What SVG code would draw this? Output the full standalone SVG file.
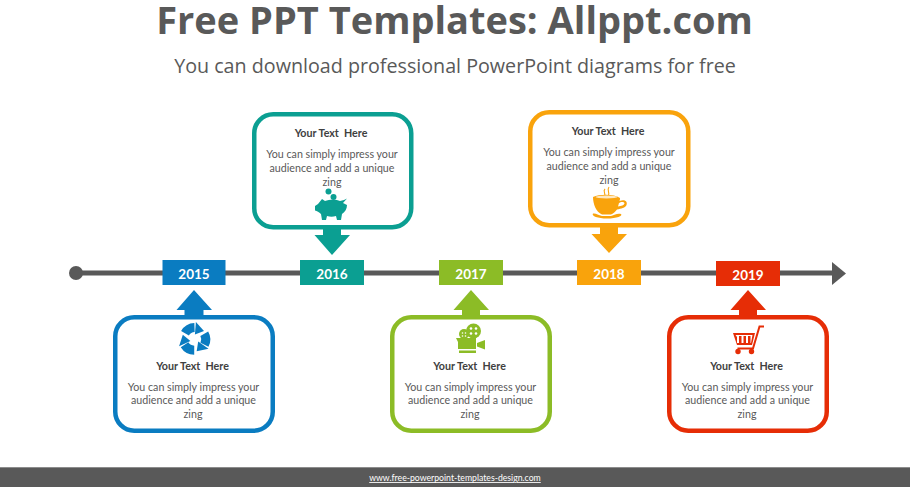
<svg xmlns="http://www.w3.org/2000/svg" width="910" height="487" viewBox="0 0 910 487">
<style>
text{font-family:"Lato","Carlito","Liberation Sans",sans-serif;text-anchor:middle}
.t{font-family:"Open Sans","Liberation Sans",sans-serif;fill:#595959}
.box{fill:#fff;stroke-width:4.5}
.h{font-size:10.700px;font-weight:700;fill:#404040}
.b{font-size:10.700px;fill:#595959}
.y{font-size:13.500px;font-weight:700;fill:#fff}
.blue{fill:#0a7cc1}.teal{fill:#0b9f92}.green{fill:#8cbc26}.orange{fill:#f9a30c}.red{fill:#e62d06}
.wh{fill:#fff}
</style>
<defs>
<g id="recycle-part"><path d="M-9.500 -5.800A11.500 11.500 0 0 1 0 -11.500" fill="none" stroke="#0a7cc1" stroke-width="9"/><path d="M.4 -4.500L1.400 -17L9.500 -8Z" fill="#0a7cc1"/></g>
</defs>
<rect width="910" height="487" fill="#fff"/>
<text class="t" x="454.500" y="34" font-size="38px" font-weight="700">Free PPT Templates: Allppt.com</text>
<text class="t" x="455" y="72.500" font-size="19.700">You can download professional PowerPoint diagrams for free</text>
<g id="connectors">
<path d="M76 273H834" stroke="#595959" stroke-width="5" fill="none"/>
<circle cx="76" cy="273" r="7" fill="#595959"/>
<path d="M832 262L846 273.500L832 285Z" fill="#595959"/>
</g>
<g id="node-2015">
<path class="blue" d="M194 290L212 310H203.500V318H184.500V310H176.500Z"/>
<rect class="box" x="115.250" y="317.250" width="157.500" height="113.500" rx="19" stroke="#0a7cc1"/>
<rect class="blue" x="162.500" y="260" width="63" height="25"/>
<text class="y" x="194" y="279">2015</text>
<use href="#recycle-part" transform="translate(194.500 339)"/>
<use href="#recycle-part" transform="translate(194.500 339) rotate(120)"/>
<use href="#recycle-part" transform="translate(194.500 339) rotate(240)"/>
<text class="h" x="192.500" y="369.500">Your Text&#160; Here</text>
<text class="b" x="193.500" y="390.500">You can simply impress your</text>
<text class="b" x="193.500" y="404">audience and add a unique</text>
<text class="b" x="193" y="418">zing</text>
</g>
<g id="node-2016">
<path class="teal" d="M332 255L350 235H341V227H323V235H314.500Z"/>
<rect class="box" x="254.250" y="114.250" width="157" height="113" rx="19" stroke="#0b9f92"/>
<rect class="teal" x="300" y="260" width="64" height="25"/>
<text class="y" x="332" y="279">2016</text>
<text class="h" x="331" y="137">Your Text&#160; Here</text>
<text class="b" x="332" y="158">You can simply impress your</text>
<text class="b" x="332" y="172">audience and add a unique</text>
<text class="b" x="332" y="186">zing</text>
<g class="teal">
<circle cx="328.500" cy="191.500" r="3"/><circle cx="333.500" cy="197" r="3"/>
<path d="M322 199L325 201C329 199.500 336 199 340 201L344 200L347 198.500L343 203L347 205C347 209 345 212 342 214L341 220H337L336 216C333 217 330 217 327 216L326 220H322L321 214C319 212 317 211 315 210.500L315 206L318 204Z"/>
</g>
</g>
<g id="node-2017">
<path class="green" d="M471 290L489 310H480V318H462V310H453.500Z"/>
<rect class="box" x="392.250" y="317.250" width="157.500" height="113.500" rx="19" stroke="#8cbc26"/>
<rect class="green" x="439" y="260" width="64" height="25"/>
<text class="y" x="471" y="279">2017</text>
<g class="green">
<path d="M458 338H476V349H458V342L456 338ZM477 343L485 340V349.500L477 346.500ZM459 350.500H476V353H459Z"/>
<circle cx="464" cy="334" r="5"/>
<circle cx="473.500" cy="331" r="7.500"/>
</g>
<g class="wh"><circle cx="471" cy="328.500" r="1.300"/><circle cx="476" cy="328.500" r="1.300"/><circle cx="471" cy="333.500" r="1.300"/><circle cx="476" cy="333.500" r="1.300"/><circle cx="462.500" cy="333" r=".8"/><circle cx="465.500" cy="333" r=".8"/><circle cx="462.500" cy="336" r=".8"/><circle cx="465.500" cy="336" r=".8"/></g>
<text class="h" x="469.500" y="369.500">Your Text&#160; Here</text>
<text class="b" x="470.500" y="390.500">You can simply impress your</text>
<text class="b" x="470.500" y="404">audience and add a unique</text>
<text class="b" x="470" y="418">zing</text>
</g>
<g id="node-2018">
<path class="orange" d="M609 253L627 234H618V226H600V234H591.500Z"/>
<rect class="box" x="530.250" y="112.250" width="158" height="113" rx="19" stroke="#f9a30c"/>
<rect class="orange" x="577" y="260" width="64" height="25"/>
<text class="y" x="609" y="279">2018</text>
<text class="h" x="608" y="135">Your Text&#160; Here</text>
<text class="b" x="609" y="156">You can simply impress your</text>
<text class="b" x="609" y="170">audience and add a unique</text>
<text class="b" x="609" y="184">zing</text>
<path d="M605 189C602 192 607 193 604 197M609 187C606 191 611 192 608 197" fill="none" stroke="#f9a30c" stroke-width="1.100"/>
<g class="orange">
<path d="M593 197C600 194 614 194 620 198C620 199 620 200 619.500 201C624 199 628 201 626.500 205C625.500 208 621 208.500 617 209.500C615 212 613 214 611 214.500H602C596 212 593 204 593 197ZM619 203L618 206.500C621 206 624.500 205.500 624.500 203C624 201.500 620.500 201.500 619 203Z"/>
<path d="M593 213.500C596 213 598 215 602 216H611C615 215 617 213 621 214C623 216 617 218.500 607 218.500C598 218.500 591 216 593 213.500Z"/>
</g>
<ellipse cx="606.500" cy="197" rx="11" ry="1.500" fill="#fff" opacity=".75"/>
</g>
<g id="node-2019">
<path class="red" d="M748 290L766 310H757V318H739V310H730.500Z"/>
<rect class="box" x="669.250" y="317.250" width="157.500" height="113.500" rx="19" stroke="#e62d06"/>
<rect class="red" x="716" y="261" width="64" height="25"/>
<text class="y" x="748" y="280">2019</text>
<path class="red" d="M733 333H755L752 345H737ZM735.500 335L737 337V343H739V336H741.500V343H743.500V336H746V343H748V336H750.500V343H751L752.500 335Z" fill-rule="evenodd"/>
<path d="M764 326.500H759.500L753 348.500H737.500" fill="none" stroke="#e62d06" stroke-width="2"/>
<circle class="red" cx="738" cy="351.500" r="2.700"/><circle class="red" cx="751.500" cy="351.500" r="2.700"/>
<text class="h" x="746.500" y="369.500">Your Text&#160; Here</text>
<text class="b" x="747.500" y="390.500">You can simply impress your</text>
<text class="b" x="747.500" y="404">audience and add a unique</text>
<text class="b" x="747" y="418">zing</text>
</g>
<g id="footer">
<rect y="467" width="910" height="20" fill="#595959"/>
<rect y="467" width="910" height="1" fill="#8c8c8c"/>
<text x="455" y="481" font-size="8.700" fill="#fff" text-decoration="underline">www.free-powerpoint-templates-design.com</text>
</g>
</svg>
